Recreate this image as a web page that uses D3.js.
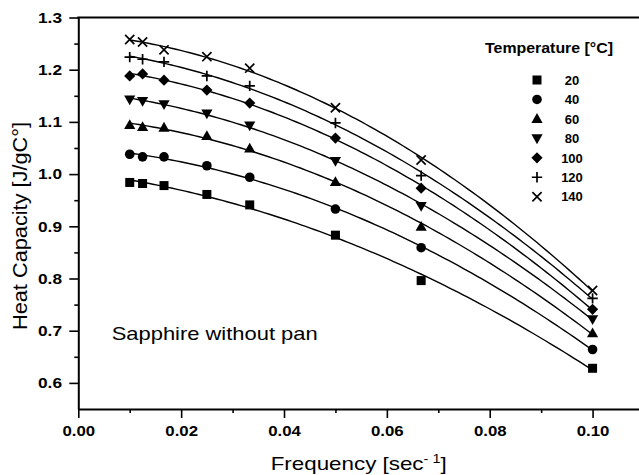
<!DOCTYPE html>
<html><head><meta charset="utf-8">
<script src="https://cdn.jsdelivr.net/npm/d3@7"></script>
<style>
body{margin:0;background:#fff}
svg{display:block;font-family:"Liberation Sans",Arial,Helvetica,sans-serif}
</style>
</head><body>
<svg id="chart" width="639" height="475"></svg>
<script>
// ---- data ----
const frequencies = [0.01, 0.0125, 1/60, 0.025, 1/30, 0.05, 1/15, 0.1];
const temperatures = [20, 40, 60, 80, 100, 120, 140];
const cp20  = [0.984, 0.982, 0.978, 0.961, 0.941, 0.883, 0.796, 0.628];
const cp40  = [1.038, 1.033, 1.033, 1.016, 0.994, 0.933, 0.859, 0.664];
const cp60  = [1.094, 1.090, 1.089, 1.073, 1.049, 0.985, 0.899, 0.695];
const cp80  = [1.143, 1.140, 1.134, 1.116, 1.093, 1.025, 0.939, 0.722];
const cp100 = [1.188, 1.192, 1.180, 1.161, 1.136, 1.069, 0.973, 0.741];
const cp120 = [1.224, 1.220, 1.215, 1.188, 1.169, 1.098, 0.997, 0.762];
const cp140 = [1.258, 1.253, 1.238, 1.225, 1.203, 1.127, 1.027, 0.777];
const seriesValues = [cp20, cp40, cp60, cp80, cp100, cp120, cp140];
const markerKinds = ["square", "circle", "triUp", "triDown", "diamond", "plus", "cross"];
const xTickValues = [0, 0.02, 0.04, 0.06, 0.08, 0.10];
const xMinorValues = [0.01, 0.03, 0.05, 0.07, 0.09];
const yTickValues = [0.6, 0.7, 0.8, 0.9, 1.0, 1.1, 1.2, 1.3];
const yMinorValues = [0.65, 0.75, 0.85, 0.95, 1.05, 1.15, 1.25];
const xTitle = "Frequency [sec";
const yTitle = "Heat Capacity [J/gC°]";
const legendTitle = "Temperature [°C]";
const annotation = "Sapphire without pan";

// ---- layout ----
const svg = d3.select("#chart");
const L = 78.3, T = 17.5, B = 409;
const x = d3.scaleLinear().domain([0, 0.11]).range([L, 644]);
const y = d3.scaleLinear().domain([0.55, 1.3]).range([B, T]);

function stretchTicks(sel, f) {
  sel.each(function () {
    const t = d3.select(this);
    const ax = +t.attr("x") || 0;
    t.attr("transform", `translate(${ax},0) scale(${f},1) translate(${-ax},0)`);
  });
}

// axes
const yAxis = svg.append("g").attr("transform", `translate(${L},0)`)
  .call(d3.axisLeft(y).tickValues(yTickValues).tickFormat(d3.format(".1f"))
    .tickSize(9).tickPadding(7.3).tickSizeOuter(0));
svg.append("g").attr("transform", `translate(${L},0)`)
  .call(d3.axisLeft(y).tickValues(yMinorValues).tickFormat("").tickSize(4).tickSizeOuter(0))
  .select(".domain").remove();
const xAxis = svg.append("g").attr("transform", `translate(0,${B})`)
  .call(d3.axisBottom(x).tickValues(xTickValues).tickFormat(d3.format(".2f"))
    .tickSize(9).tickPadding(7.4).tickSizeOuter(0));
svg.append("g").attr("transform", `translate(0,${B})`)
  .call(d3.axisBottom(x).tickValues(xMinorValues).tickFormat("").tickSize(4).tickSizeOuter(0))
  .select(".domain").remove();

svg.selectAll(".tick line").attr("stroke", "#000").attr("stroke-width", 1.6);
svg.selectAll(".domain").attr("stroke", "#000").attr("stroke-width", 2);
[yAxis, xAxis].forEach(a => a.selectAll("text")
  .attr("font-size", 15).attr("font-weight", "bold").attr("fill", "#000")
  .attr("font-family", '"Liberation Sans",Arial,sans-serif'));
stretchTicks(yAxis.selectAll("text"), 1.15);
stretchTicks(xAxis.selectAll("text"), 1.12);

// top frame line
svg.append("line").attr("x1", L - 1).attr("x2", 639).attr("y1", y(1.3)).attr("y2", y(1.3))
  .attr("stroke", "#000").attr("stroke-width", 2);

// quadratic least-squares fit of each series (the smooth lines in the figure)
function quadFit(xs, ys) {
  let S = [0,0,0,0,0], R = [0,0,0];
  xs.forEach((xi, i) => {
    for (let k = 0; k < 5; k++) S[k] += Math.pow(xi, k);
    for (let k = 0; k < 3; k++) R[k] += ys[i] * Math.pow(xi, k);
  });
  const M = [[S[0],S[1],S[2],R[0]],[S[1],S[2],S[3],R[1]],[S[2],S[3],S[4],R[2]]];
  for (let i = 0; i < 3; i++) {
    for (let j = i + 1; j < 3; j++) {
      const f = M[j][i] / M[i][i];
      for (let k = i; k < 4; k++) M[j][k] -= f * M[i][k];
    }
  }
  const c = [0,0,0];
  for (let i = 2; i >= 0; i--) {
    let s = M[i][3];
    for (let k = i + 1; k < 3; k++) s -= M[i][k] * c[k];
    c[i] = s / M[i][i];
  }
  return v => c[0] + c[1]*v + c[2]*v*v;
}

const line = d3.line().x(d => x(d[0])).y(d => y(d[1]));
const x0 = d3.min(frequencies), x1 = d3.max(frequencies);
seriesValues.forEach(vals => {
  const f = quadFit(frequencies, vals);
  const pts = d3.range(0, 101).map(i => { const v = x0 + (x1 - x0) * i / 100; return [v, f(v)]; });
  svg.append("path").attr("d", line(pts)).attr("fill", "none")
    .attr("stroke", "#000").attr("stroke-width", 1.4);
});

// markers
function drawMarker(g, kind, cx, cy) {
  const s = g.append("g").attr("transform", `translate(${cx},${cy})`);
  switch (kind) {
    case "square": s.append("rect").attr("x", -4.5).attr("y", -4.5).attr("width", 9).attr("height", 9).attr("fill", "#000"); break;
    case "circle": s.append("circle").attr("r", 4.8).attr("fill", "#000"); break;
    case "triUp": s.append("path").attr("d", "M0,-5.8L5.6,4L-5.6,4Z").attr("fill", "#000"); break;
    case "triDown": s.append("path").attr("d", "M0,5.8L5.6,-4L-5.6,-4Z").attr("fill", "#000"); break;
    case "diamond": s.append("path").attr("d", "M0,-5.6L5.6,0L0,5.6L-5.6,0Z").attr("fill", "#000"); break;
    case "plus": s.append("path").attr("d", "M-5.2,0H5.2M0,-5.2V5.2").attr("stroke", "#000").attr("stroke-width", 1.7); break;
    case "cross": s.append("path").attr("d", "M-4.6,-4.6L4.6,4.6M-4.6,4.6L4.6,-4.6").attr("stroke", "#000").attr("stroke-width", 1.7); break;
  }
}
const markers = svg.append("g");
seriesValues.forEach((vals, si) => {
  vals.forEach((v, i) => drawMarker(markers, markerKinds[si], x(frequencies[i]), y(v)));
});

// legend
const legY = d3.scaleLinear().domain([0, 6]).range([80, 196.7]);
svg.append("text").attr("x", 485).attr("y", 53).attr("font-size", 14.5).attr("font-weight", "bold")
  .attr("textLength", 128).attr("lengthAdjust", "spacingAndGlyphs").text(legendTitle);
temperatures.forEach((t, i) => {
  drawMarker(svg, markerKinds[i], 537, legY(i));
  svg.append("text").attr("x", 572).attr("y", legY(i) + 4.7).attr("text-anchor", "middle")
    .attr("font-size", 13).attr("font-weight", "bold").text(t);
});

// annotation
svg.append("text").attr("x", 111.7).attr("y", 339.5).attr("font-size", 18.5)
  .attr("textLength", 206).attr("lengthAdjust", "spacingAndGlyphs").text(annotation);

// axis titles
const xt = svg.append("text").attr("x", 270.7).attr("y", 469.5).attr("font-size", 18.5)
  .attr("textLength", 176).attr("lengthAdjust", "spacingAndGlyphs");
xt.append("tspan").text(xTitle);
xt.append("tspan").attr("font-size", 12).attr("dy", -7).text("- 1");
xt.append("tspan").attr("dy", 7).text("]");

svg.append("text").attr("transform", "translate(27,330) rotate(-90)")
  .attr("font-size", 21).attr("textLength", 208).attr("lengthAdjust", "spacingAndGlyphs")
  .text(yTitle);
</script>
</body></html>
